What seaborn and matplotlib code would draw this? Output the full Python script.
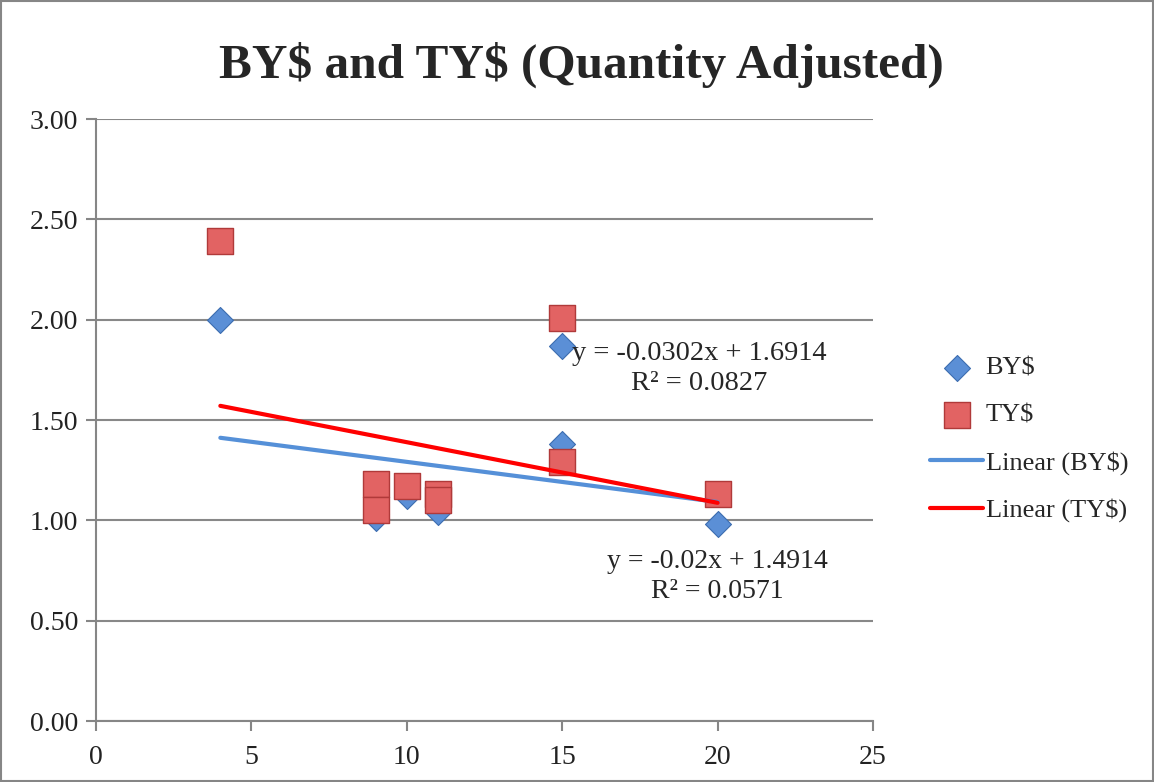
import pandas as pd
import seaborn as sns
import matplotlib.pyplot as plt
import numpy as np
from matplotlib.patches import Rectangle

# values
x_vals = [4, 9, 9, 10, 11, 11, 15, 15, 20]
by_vals = [2.00, 1.03, 1.01, 1.12, 1.06, 1.04, 1.87, 1.38, 0.98]
ty_vals = [2.39, 1.18, 1.05, 1.17, 1.13, 1.10, 2.01, 1.29, 1.13]

# trendline coefficients (from the equation labels)
by_slope, by_intercept, by_r2 = -0.02, 1.4914, 0.0571
ty_slope, ty_intercept, ty_r2 = -0.0302, 1.6914, 0.0827

x_ticks = [0, 5, 10, 15, 20, 25]
y_ticks = [0.00, 0.50, 1.00, 1.50, 2.00, 2.50, 3.00]

df = pd.DataFrame({'x': x_vals, 'BY$': by_vals, 'TY$': ty_vals})

# trend lines over the data range
xs = np.array([min(x_vals), max(x_vals)])
trend = pd.DataFrame({
    'x': np.concatenate([xs, xs]),
    'y': np.concatenate([by_slope * xs + by_intercept, ty_slope * xs + ty_intercept]),
    'series': ['Linear (BY\\$)'] * 2 + ['Linear (TY\\$)'] * 2,
})

sns.set_style('white')
plt.rcParams['font.family'] = ['Liberation Serif', 'DejaVu Serif']

fig = plt.figure(figsize=(11.54, 7.82), dpi=100)
ax = fig.add_axes([0.0832, 0.078, 0.6733, 0.7698])

sns.scatterplot(data=df, x='x', y='BY$', ax=ax, marker='D', s=175, color='#5B8FD6',
                edgecolor='#3C6DB0', linewidth=0.8, label='BY\\$', zorder=3)
sns.scatterplot(data=df, x='x', y='TY$', ax=ax, marker='s', s=350, color='#E26363',
                edgecolor='#B03A3A', linewidth=1.0, label='TY\\$', zorder=4)
sns.lineplot(data=trend, x='x', y='y', hue='series', ax=ax,
             palette={'Linear (BY\\$)': '#5590D8', 'Linear (TY\\$)': '#FF0000'},
             linewidth=3, zorder=5)

ax.set_xlim(0, 25)
ax.set_ylim(0, 3)
ax.set_xticks(x_ticks)
ax.set_yticks(y_ticks)
ax.set_yticklabels(['%.2f' % v for v in y_ticks])
ax.set_xlabel('')
ax.set_ylabel('')
ax.tick_params(labelsize=20, colors='#222222', length=7, width=1.5, direction='out',
               color='#868686', left=True, bottom=True)
ax.tick_params(axis='y', pad=6)
ax.tick_params(axis='x', pad=10)
ax.grid(axis='y', color='#888888', linewidth=1.5)
ax.grid(axis='x', visible=False)
ax.set_axisbelow(True)
for side in ['top', 'right']:
    ax.spines[side].set_visible(False)
for side in ['left', 'bottom']:
    ax.spines[side].set_color('#868686')
    ax.spines[side].set_linewidth(1.5)

# equation labels
ax.text(19.4, 1.755, 'y = -0.0302x + 1.6914\nR\u00b2 = 0.0827', ha='center', va='center',
        fontsize=20.5, linespacing=1.25, zorder=6)
ax.text(20.0, 0.72, 'y = -0.02x + 1.4914\nR\u00b2 = 0.0571', ha='center', va='center',
        fontsize=20, linespacing=1.25, zorder=6)

fig.suptitle('BY\\$ and TY\\$ (Quantity Adjusted)', x=0.504, y=0.947, fontsize=35.5,
             fontweight='bold')

ax.legend(loc='upper left', bbox_to_anchor=(0.797, 0.558), bbox_transform=fig.transFigure,
          frameon=False, fontsize=19, handlelength=2.0, labelspacing=0.9,
          handletextpad=0.1, borderaxespad=0)

fig.patches.append(Rectangle((0.001, 0.001), 0.998, 0.998, transform=fig.transFigure,
                             fill=False, edgecolor='#868686', linewidth=1.5))

plt.savefig('out.png', dpi=100)
